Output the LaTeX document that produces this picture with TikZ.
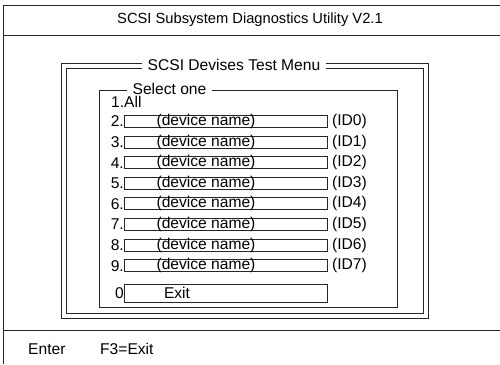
\documentclass[tikz,border=0pt]{standalone}
\usepackage{fontspec}
\setmainfont{Liberation Sans}
\begin{document}
\begin{tikzpicture}[x=1pt,y=-1pt,
  ln/.style={draw=black!85,line width=0.9pt},
  txt/.style={font=\fontsize{15.6}{17}\selectfont,inner sep=0pt},
  devbox/.style={ln,minimum width=203pt,minimum height=12pt,inner sep=0pt},
  ttl/.style={txt,fill=white,inner xsep=6pt,inner ysep=2pt}]
\useasboundingbox (0,0) rectangle (500,364);
% outer screen frame
\coordinate (tl) at (3,5);
\coordinate (tr) at (500,5);
\coordinate (bl) at (3,364);
\coordinate (h1l) at (3,35);
\coordinate (h1r) at (500,35);
\coordinate (h2l) at (3,330);
\coordinate (h2r) at (500,330);
\draw[ln] (tr) -- (tl) -- (bl);
\draw[ln] (h1l) -- (h1r);
\draw[ln] (h2l) -- (h2r);
\node[txt,font=\fontsize{14.7}{16}\selectfont] (title) at (250,20) {SCSI Subsystem Diagnostics Utility V2.1};
% menu double frame
\draw[ln] (61,63) rectangle (428,318);
\draw[ln] (66,68) rectangle (423,313);
\node[ttl] (menu) at (234,65) {SCSI Devises Test Menu};
% select frame
\draw[ln] (99,90) rectangle (397,307);
\node[ttl] (sel) at (169.5,89) {Select one};
\node[txt,anchor=west] (n1) at (111,102) {1.All};
% device rows
\foreach \k/\id [count=\i from 0] in {2/0,3/1,4/2,5/3,6/4,7/5,8/6,9/7}{
  \node[devbox,anchor=west] (b\k) at (124,{121.5+\i*20.6}) {};
  \node[txt] (d\k) at ([xshift=82pt]b\k.west) {(device name)};
  \node[txt,anchor=east] (l\k) at (b\k.west) {\k.};
  \node[txt,anchor=west] (id\k) at ([xshift=4pt]b\k.east) {(ID\id)};
}
\node[devbox,anchor=west,minimum height=18pt] (b0) at (124,293) {};
\node[txt] (ex) at ([xshift=53pt]b0.west) {Exit};
\node[txt,anchor=east] (l0) at (b0.west) {0};
% bottom keys
\node[txt,anchor=west] (enter) at (28,349) {Enter};
\node[txt,anchor=west] (f3) at (100,349) {F3=Exit};
\end{tikzpicture}
\end{document}
